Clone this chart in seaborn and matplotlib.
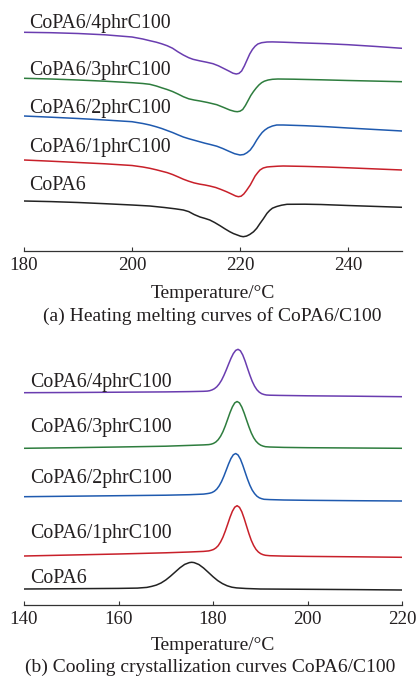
import matplotlib
matplotlib.use("Agg")
import matplotlib.pyplot as plt
import seaborn as sns
import pandas as pd

# ---------------- data ----------------
sample_names = ["CoPA6", "CoPA6/1phrC100", "CoPA6/2phrC100", "CoPA6/3phrC100", "CoPA6/4phrC100"]
line_colors = ["#222222", "#C8202A", "#1F5AAF", "#2E7D3E", "#6A3DB0"]

# (a) heating / melting curves (heat flow, arbitrary units incl. vertical offset)
heat_T_black = [180, 185, 190, 195, 200, 203.3, 206, 208, 209.5, 210.5, 211.5, 212.6, 213.5, 214.4,
                215.3, 216.3, 217.2, 218.1, 218.8, 219.5, 220.1, 220.6, 221.2, 221.8, 222.5, 223.1,
                223.7, 224.3, 225, 225.5, 226, 226.8, 227.7, 228.7, 232, 235, 240, 245, 250]
heat_Q_black = [50, 49.4, 48.5, 47.3, 46, 45, 43.5, 42.2, 41, 39.4, 36.5, 34, 32.6, 31,
                28.5, 25.3, 22.2, 19.3, 17.4, 16, 14.8, 14.3, 14.9, 16.5, 19.2, 22.7,
                27.5, 32, 37.7, 40.6, 42.8, 44.5, 45.8, 46.7, 46.8, 46.5, 45.5, 44.6, 43.7]
heat_T_red = [180, 185, 190, 195, 200, 202, 203.3, 204.5, 205.5, 206.5, 207.5, 208.5, 209.5, 210.5,
              211.5, 212.5, 213.5, 214.4, 215.5, 216.5, 217.5, 218.5, 219.2, 219.7, 220.2, 220.7,
              221.2, 221.9, 222.4, 222.8, 223.3, 223.7, 224.3, 225, 225.6, 227, 228, 232, 236,
              240, 245, 250]
heat_Q_red = [91, 89.8, 88.5, 87.2, 85.5, 84, 82.7, 81.2, 79.8, 78.4, 76.5, 74.2, 71.8, 69.8,
              68.1, 66.9, 66, 65, 63.5, 61.5, 59.3, 56.8, 55, 54.3, 54.8, 57,
              60.5, 66, 71, 75, 78.5, 81, 83, 84, 84.3, 84.8, 85, 84.6, 84,
              83.2, 82.1, 81]
heat_T_blue = [180, 185, 190, 195, 200, 202, 203.3, 204.5, 205.5, 206.5, 207.5, 208.5, 209.5, 210.5,
               211.5, 212.5, 213.5, 214.5, 215.7, 216.8, 218, 219, 220, 220.7, 221.3, 221.9,
               222.5, 223.1, 223.6, 224.1, 224.6, 225.2, 226, 226.8, 228, 232, 236, 240, 245, 250]
heat_Q_blue = [135, 133.8, 132.5, 131, 129.3, 127.5, 126, 124.2, 122.5, 120.5, 118.5, 116.2, 114, 112.3,
               110.8, 109.3, 107.8, 106.5, 104.8, 102.5, 99.6, 97.3, 96, 96.5, 98.3, 101,
               105.5, 111, 115, 118.5, 121, 123.2, 125, 126, 126, 125.3, 124.3, 123, 121.5, 120]
heat_T_green = [180, 185, 190, 195, 200, 202, 203.3, 204.5, 205.5, 206.5, 207.5, 208.5, 209.5, 210.5,
                211.5, 212.6, 214, 215.7, 217, 218.1, 219, 219.5, 220, 220.5, 221, 221.5,
                222, 222.5, 223, 223.5, 224, 224.5, 225.2, 226, 227, 230, 235, 240, 245, 250]
heat_Q_green = [172.7, 172, 171, 169.8, 168.3, 167.5, 166.7, 165, 163.2, 161.5, 159.5, 157, 154.3, 152.2,
                151, 150, 148.5, 146.3, 143.5, 141, 139.6, 139.3, 139.8, 141.5, 145.5, 150.5,
                155.5, 159.5, 163, 166, 168.3, 169.8, 171, 171.7, 172, 171.8, 171.2, 170.5, 169.9, 169.3]
heat_T_purple = [180, 185, 190, 195, 200, 202, 203.3, 204.5, 205.5, 206.5, 207.5, 208.5, 209.5, 210.5,
                 211.3, 212.5, 213.8, 215, 216, 217, 218, 218.7, 219.3, 219.8, 220.3, 220.8,
                 221.3, 221.8, 222.3, 222.8, 223.3, 224, 225, 226, 228, 232, 236, 240, 245, 250]
heat_Q_purple = [218.7, 218.3, 217.5, 216.2, 214, 212, 210.3, 208.8, 207.2, 205.3, 202.8, 199.2, 196, 193.3,
                 191.7, 190.2, 188.8, 187.3, 185.2, 182.5, 179.8, 177.8, 177, 177.6, 180, 185,
                 191, 197, 201.5, 204.8, 207, 208.3, 209, 209.1, 208.8, 208, 207.3, 206.3, 204.6, 202.7]

# (b) cooling / crystallization curves
cool_T_black = [140, 150, 160, 164, 166, 167, 168, 169, 170, 171, 172, 173, 174, 175, 175.5,
                176, 177, 178, 179, 180, 181, 182, 183, 184, 185, 187, 190, 200, 210, 220]
cool_Q_black = [16.0, 16.3, 16.6, 16.9, 17.6, 18.6, 19.9, 22.0, 25.0, 28.8, 33.0, 37.2, 40.6, 42.4, 42.7,
                42.4, 40.5, 37.0, 32.7, 28.3, 24.4, 21.4, 19.2, 17.8, 17.1, 16.5, 16.0, 15.7, 15.4, 15.0]
cool_T_red = [140, 150, 160, 170, 175, 178, 179.1, 179.6, 180.1, 180.6, 181.1, 181.6, 182.1, 182.6,
              183.1, 183.6, 184.1, 184.6, 185.1, 185.6, 186.1, 186.6, 187.1, 187.6, 188.1, 188.6,
              189.1, 189.6, 190.1, 190.6, 191.1, 192, 195, 200, 210, 220]
cool_Q_red = [49.0, 50.0, 51.0, 52.2, 53.0, 53.6, 54.1, 54.7, 55.5, 57.0, 59.3, 63.0, 67.8, 73.9,
              80.7, 87.7, 93.7, 97.8, 99.3, 97.7, 93.2, 86.5, 78.9, 71.4, 64.7, 59.5,
              55.6, 53.0, 51.3, 50.3, 49.7, 49.3, 48.9, 48.6, 48.2, 47.7]
cool_T_blue = [140, 150, 160, 170, 175, 178, 178.8, 179.3, 179.8, 180.3, 180.8, 181.3, 181.8, 182.3,
               182.8, 183.3, 183.8, 184.3, 184.8, 185.3, 185.8, 186.3, 186.8, 187.3, 187.8, 188.3,
               188.8, 189.3, 189.8, 190.3, 190.8, 192, 195, 200, 210, 220]
cool_Q_blue = [108.3, 108.8, 109.3, 109.8, 110.3, 110.9, 111.4, 111.8, 112.5, 113.8, 115.9, 119.1, 123.4, 128.8,
               134.9, 141.1, 146.5, 150.2, 151.5, 150.0, 145.9, 139.8, 132.8, 125.9, 119.8, 114.9,
               111.4, 108.8, 107.2, 106.3, 105.7, 105.4, 105.0, 104.7, 104.3, 104.0]
cool_T_green = [140, 150, 160, 170, 175, 178, 179.1, 179.6, 180.1, 180.6, 181.1, 181.6, 182.1, 182.6,
                183.1, 183.6, 184.1, 184.6, 185.1, 185.6, 186.1, 186.6, 187.1, 187.6, 188.1, 188.6,
                189.1, 189.6, 190.1, 190.6, 191.1, 192, 195, 200, 210, 220]
cool_Q_green = [156.7, 157.3, 158.0, 158.8, 159.6, 160.1, 160.4, 160.8, 161.6, 163.0, 165.3, 168.7, 173.3, 179.1,
                185.7, 192.4, 198.1, 202.1, 203.5, 202.1, 197.9, 191.9, 185.0, 178.2, 172.1, 167.3,
                163.8, 161.4, 159.8, 158.9, 158.3, 158.0, 157.6, 157.3, 157.0, 156.7]
cool_T_purple = [140, 150, 160, 170, 175, 178, 178.8, 179.3, 179.8, 180.3, 180.8, 181.3, 181.8, 182.3,
                 182.8, 183.3, 183.8, 184.3, 184.8, 185.3, 185.8, 186.3, 186.8, 187.3, 187.8, 188.3,
                 188.8, 189.3, 189.8, 190.3, 190.8, 191.3, 192, 194, 200, 210, 220]
cool_Q_purple = [212.3, 212.5, 212.8, 213.1, 213.4, 213.7, 213.9, 214.3, 215.1, 216.3, 218.2, 221.0, 224.7, 229.5,
                 235.0, 240.9, 246.6, 251.4, 254.6, 255.7, 254.2, 250.0, 243.9, 236.8, 229.9, 223.7,
                 218.8, 215.2, 212.8, 211.3, 210.5, 210.0, 209.8, 209.6, 209.2, 208.8, 208.3]

heat_label_y = [61, 98.7, 138.3, 175.7, 222.7]
cool_label_y = [21.7, 66.7, 122.3, 173.3, 218.3]

heat_ticks = [180, 200, 220, 240]
cool_ticks = [140, 160, 180, 200, 220]
heat_xlim = (180, 250)
cool_xlim = (140, 220)

axis_label = "Temperature/°C"
caption_a = "(a) Heating melting curves of CoPA6/C100"
caption_b = "(b) Cooling crystallization curves CoPA6/C100"

heat_T = [heat_T_black, heat_T_red, heat_T_blue, heat_T_green, heat_T_purple]
heat_Q = [heat_Q_black, heat_Q_red, heat_Q_blue, heat_Q_green, heat_Q_purple]
cool_T = [cool_T_black, cool_T_red, cool_T_blue, cool_T_green, cool_T_purple]
cool_Q = [cool_Q_black, cool_Q_red, cool_Q_blue, cool_Q_green, cool_Q_purple]

# ---------------- style ----------------
sns.set_theme(style="white")
plt.rcParams["font.family"] = ["Liberation Serif", "DejaVu Serif"]
TXT = "#231f20"

W, H = 418, 683
fig = plt.figure(figsize=(W / 100, H / 100), dpi=100)


def make_axes(top_px, bottom_px):
    return fig.add_axes([24 / W, 1 - bottom_px / H, 378 / W, (bottom_px - top_px) / H])


ax_a = make_axes(8, 251)
ax_b = make_axes(345, 605)


def draw(ax, Ts, Qs, label_y, xlim, ylim, ticks, label_x):
    for T, Q, c, name, ly in zip(Ts, Qs, line_colors, sample_names, label_y):
        df = pd.DataFrame({"T": T, "Q": Q})
        sns.lineplot(data=df, x="T", y="Q", ax=ax, color=c, linewidth=1.1,
                     estimator=None, sort=False, solid_joinstyle="round")
        ax.text(label_x, ly, name, fontsize=14.3, color=TXT, ha="left", va="baseline")
    ax.set_xlim(*xlim)
    ax.set_ylim(*ylim)
    ax.set_xticks(ticks)
    ax.set_xticklabels([str(t) for t in ticks])
    ax.set_yticks([])
    ax.set_xlabel("")
    ax.set_ylabel("")
    for s in ["top", "left", "right"]:
        ax.spines[s].set_visible(False)
    ax.spines["bottom"].set_color("#333333")
    ax.spines["bottom"].set_linewidth(0.9)
    ax.tick_params(axis="x", direction="in", length=3, width=0.8, colors="#333333",
                   labelcolor=TXT, labelsize=13.6, pad=4.5, bottom=True)
    ax.patch.set_alpha(0)


draw(ax_a, heat_T, heat_Q, heat_label_y, heat_xlim, (0, 243), heat_ticks, 180.93)
draw(ax_b, cool_T, cool_Q, cool_label_y, cool_xlim, (0, 260), cool_ticks, 141.27)

fig.text(213 / W, 1 - 298.5 / H, axis_label, fontsize=14, color=TXT, ha="center", va="baseline")
fig.text(212.5 / W, 1 - 320.5 / H, caption_a, fontsize=14, color=TXT, ha="center", va="baseline")
fig.text(213 / W, 1 - 650 / H, axis_label, fontsize=14, color=TXT, ha="center", va="baseline")
fig.text(210.5 / W, 1 - 671.7 / H, caption_b, fontsize=14, color=TXT, ha="center", va="baseline")

fig.savefig("out.png", dpi=100)
